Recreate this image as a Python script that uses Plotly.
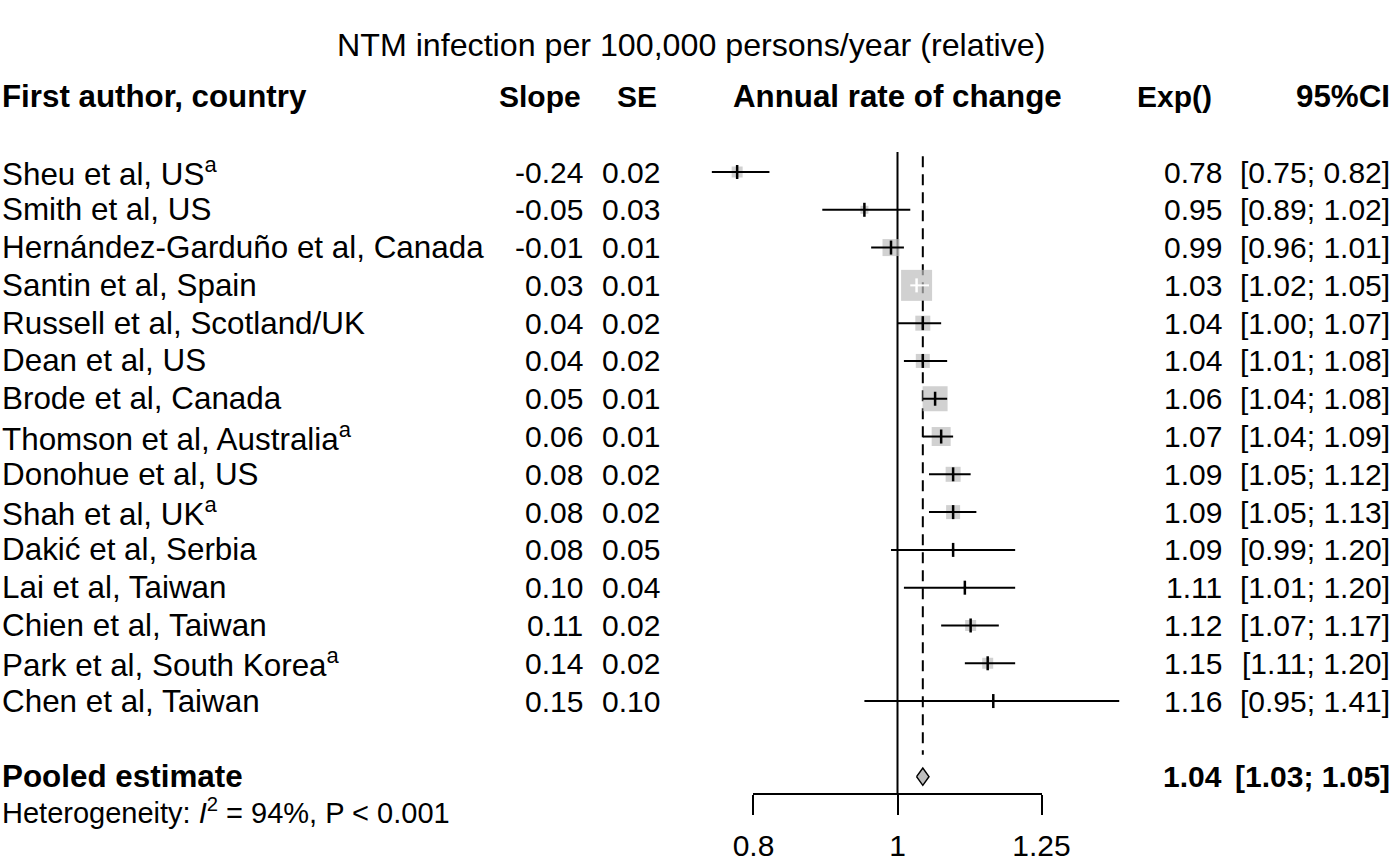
import plotly.graph_objects as go
import math

# ---------------- data ----------------
authors = [
    "Sheu et al, US<sup>a</sup>",
    "Smith et al, US",
    "Hernández-Garduño et al, Canada",
    "Santin et al, Spain",
    "Russell et al, Scotland/UK",
    "Dean et al, US",
    "Brode et al, Canada",
    "Thomson et al, Australia<sup>a</sup>",
    "Donohue et al, US",
    "Shah et al, UK<sup>a</sup>",
    "Dakić et al, Serbia",
    "Lai et al, Taiwan",
    "Chien et al, Taiwan",
    "Park et al, South Korea<sup>a</sup>",
    "Chen et al, Taiwan",
]
slope = [-0.24, -0.05, -0.01, 0.03, 0.04, 0.04, 0.05, 0.06, 0.08, 0.08, 0.08, 0.10, 0.11, 0.14, 0.15]
se = [0.02, 0.03, 0.01, 0.01, 0.02, 0.02, 0.01, 0.01, 0.02, 0.02, 0.05, 0.04, 0.02, 0.02, 0.10]
exp_est = [0.78, 0.95, 0.99, 1.03, 1.04, 1.04, 1.06, 1.07, 1.09, 1.09, 1.09, 1.11, 1.12, 1.15, 1.16]
ci_low = [0.75, 0.89, 0.96, 1.02, 1.00, 1.01, 1.04, 1.04, 1.05, 1.05, 0.99, 1.01, 1.07, 1.11, 0.95]
ci_high = [0.82, 1.02, 1.01, 1.05, 1.07, 1.08, 1.08, 1.09, 1.12, 1.13, 1.20, 1.20, 1.17, 1.20, 1.41]
pooled_label = "Pooled estimate"
pooled_est = 1.04
pooled_low = 1.03
pooled_high = 1.05
heterogeneity = "Heterogeneity: <i>I</i><sup>2</sup> = 94%, P &lt; 0.001"
title_text = "NTM infection per 100,000 persons/year (relative)"
headers = ["First author, country", "Slope", "SE", "Annual rate of change", "Exp()", "95%CI"]
null_value = 1.0
axis_ticks = [0.8, 1, 1.25]
axis_tick_labels = ["0.8", "1", "1.25"]

# ---------------- styles ----------------
box_px = [11, 8, 17, 31, 15, 14, 25, 19, 15, 14, 3, 3, 11, 11, 2]
ci_white = [False, False, False, True, False, False, False, False, False, False, False, False, False, False, False]
W, H = 1392, 864
FONT = "Liberation Sans, Arial, Helvetica, sans-serif"
FS_NUM = 30
FS_NAME = 31.4
FS_TITLE = 32.2
FS_HEAD = 31.3
FS_HET = 29
BOX_COL = "#bebebe"

rows = list(range(1, len(authors) + 1))
pooled_row = len(authors) + 2
het_row = pooled_row + 0.9
header_row = -1
title_row = -2.36

# pixel geometry -> axis ranges
row0_px, row_step = 172.0, 37.79
y_top = 1 - row0_px / row_step
y_bot = 1 + (H - row0_px) / row_step
one_px, px_per_dec = 897.5, 1486.0
x_left = (0 - one_px) / px_per_dec
x_right = (W - one_px) / px_per_dec


def px(xp):
    return xp / W


fig = go.Figure()

# reference lines (null and pooled)
fig.add_trace(go.Scatter(x=[null_value, null_value], y=[0.47, 17.46], mode="lines",
                         line=dict(color="black", width=2), hoverinfo="skip", showlegend=False))
fig.add_trace(go.Scatter(x=[pooled_est, pooled_est], y=[0.58, 16.42], mode="lines",
                         line=dict(color="black", width=2, dash="11px,7px"),
                         hoverinfo="skip", showlegend=False))

# boxes
fig.add_trace(go.Scatter(x=exp_est, y=rows, mode="markers",
                         marker=dict(symbol="square", size=box_px, color=BOX_COL, line=dict(width=0)),
                         hoverinfo="skip", showlegend=False))

# CI lines and point ticks
for color, flag in (("black", False), ("white", True)):
    sel = [i for i in range(len(rows)) if ci_white[i] == flag]
    if not sel:
        continue
    xs, ys = [], []
    for i in sel:
        xs += [ci_low[i], ci_high[i], None]
        ys += [rows[i], rows[i], None]
    fig.add_trace(go.Scatter(x=xs, y=ys, mode="lines", line=dict(color=color, width=2),
                             hoverinfo="skip", showlegend=False))
    fig.add_trace(go.Scatter(x=[exp_est[i] for i in sel], y=[rows[i] for i in sel], mode="markers",
                             marker=dict(symbol="line-ns", size=10, line=dict(color=color, width=2.5)),
                             hoverinfo="skip", showlegend=False))

# pooled diamond
dh = 0.23
fig.add_trace(go.Scatter(x=[pooled_low, pooled_est, pooled_high, pooled_est, pooled_low],
                         y=[pooled_row, pooled_row - dh, pooled_row, pooled_row + dh, pooled_row],
                         mode="lines", fill="toself", fillcolor=BOX_COL,
                         line=dict(color="black", width=1.5), hoverinfo="skip", showlegend=False))

# invisible trace for bottom axis
fig.add_trace(go.Scatter(x=[1], y=[0], xaxis="x2", yaxis="y", mode="markers",
                         marker=dict(opacity=0), hoverinfo="skip", showlegend=False))

ann = []


def text(x_ref, row, s, anchor="left", bold=False, size=FS_NUM):
    ann.append(dict(x=max(0.0, min(1.0, px(x_ref))), xref="paper", y=row, yref="y",
                    text=(f"<b>{s}</b>" if bold else s),
                    showarrow=False, xanchor=anchor, yanchor="middle",
                    font=dict(family=FONT, size=size, color="black")))


LEFT = -2
text(690.5, title_row, title_text, "center", size=FS_TITLE)
# header
text(LEFT, header_row, headers[0], "left", True, FS_HEAD)
text(583, header_row, headers[1], "right", True, FS_NUM)
text(659, header_row, headers[2], "right", True, FS_NUM)
text(897.5, header_row, headers[3], "center", True, FS_HEAD)
text(1214, header_row, headers[4], "right", True, FS_NUM)
text(1393, header_row, headers[5], "right", True, FS_HEAD)

for i, r in enumerate(rows):
    text(LEFT, r, authors[i], size=FS_NAME)
    text(585, r, f"{slope[i]:.2f}", "right")
    text(662, r, f"{se[i]:.2f}", "right")
    text(1224, r, f"{exp_est[i]:.2f}", "right")
    text(1393, r, f"[{ci_low[i]:.2f}; {ci_high[i]:.2f}]", "right")

text(LEFT, pooled_row, pooled_label, "left", True, FS_NAME)
text(1224, pooled_row, f"{pooled_est:.2f}", "right", True)
text(1393, pooled_row, f"[{pooled_low:.2f}; {pooled_high:.2f}]", "right", True)
text(LEFT, het_row, heterogeneity, "left", size=FS_HET)

axis_px_left = one_px + px_per_dec * math.log10(axis_ticks[0])
axis_px_right = one_px + px_per_dec * math.log10(axis_ticks[-1])

fig.update_layout(
    width=W, height=H, autosize=False,
    margin=dict(l=0, r=0, t=0, b=0, pad=0, autoexpand=False),
    paper_bgcolor="white", plot_bgcolor="rgba(0,0,0,0)",
    showlegend=False,
    annotations=ann,
    xaxis=dict(type="log", range=[x_left, x_right], visible=False, domain=[0, 1], automargin=False),
    yaxis=dict(range=[y_bot, y_top], visible=False, domain=[0, 1], automargin=False),
    xaxis2=dict(type="log", domain=[axis_px_left / W, axis_px_right / W],
                range=[math.log10(axis_ticks[0]), math.log10(axis_ticks[-1])],
                anchor="free", position=1 - 794 / H, automargin=False,
                showline=True, linecolor="black", linewidth=2,
                ticks="outside", ticklen=20, tickwidth=2, tickcolor="black",
                ticklabelstandoff=5,
                tickvals=axis_ticks, ticktext=axis_tick_labels,
                showgrid=False, zeroline=False,
                tickfont=dict(family=FONT, size=FS_NUM, color="black")),
)

fig.write_html("out.html", config={"displayModeBar": False},
               post_script="document.body.style.margin='0';document.body.style.overflow='hidden';")
